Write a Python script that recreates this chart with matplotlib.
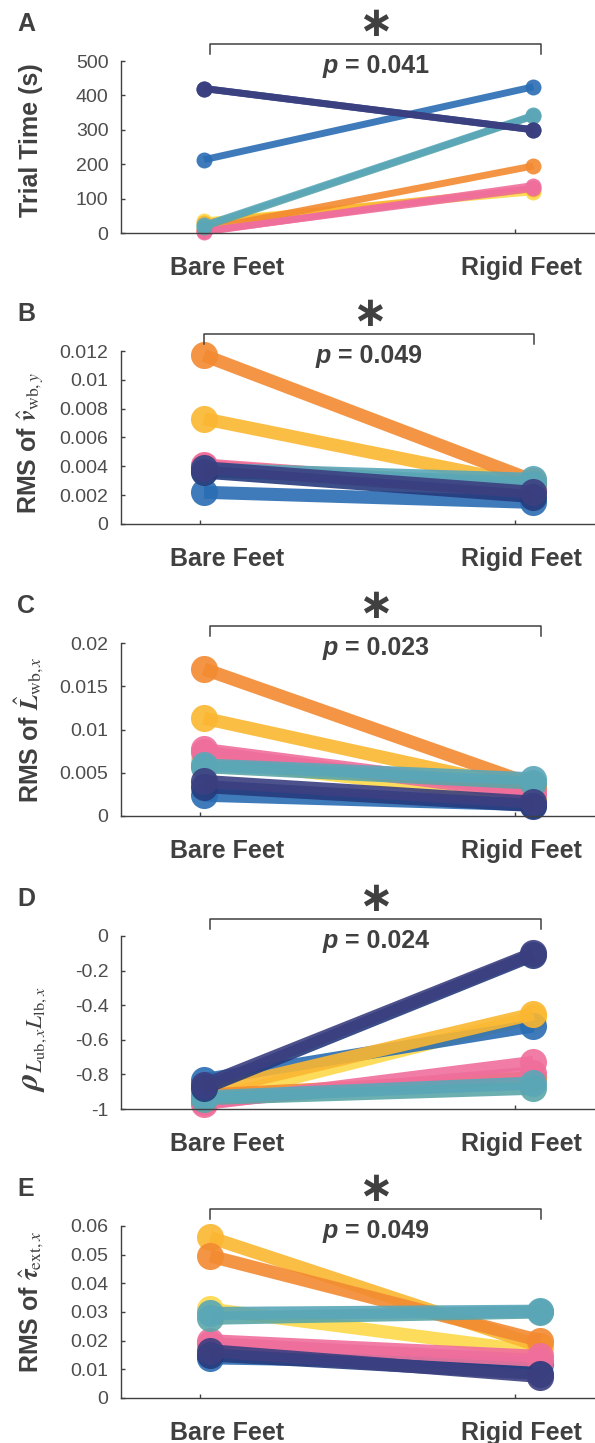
"""
Bare vs rigid feet: five paired-subject panels
"""
import numpy as np
import matplotlib.pyplot as plt
import matplotlib.transforms as mtransforms
from matplotlib.ticker import FuncFormatter

plt.rcParams['font.family'] = ['Liberation Sans', 'DejaVu Sans']
plt.rcParams['mathtext.fontset'] = 'stix'

W, H = 595, 1443
TXT = '#404040'

conditions = ['Bare Feet', 'Rigid Feet']
subjects = ['navy', 'darknavy', 'blue', 'teal', 'teal2', 'orange', 'gold', 'yellow', 'pink', 'pink2']
subject_colors = ['#3b3f80', '#263b7c', '#2a6db3', '#5aa7b8', '#5ba6a8',
                  '#f38a31', '#fbb731', '#fdd94a', '#f06e9c', '#ec6f99']
draw_order = ['yellow', 'blue', 'gold', 'orange', 'pink2', 'pink', 'teal2', 'teal', 'darknavy', 'navy']

# valores por sujeto (mismo orden que subjects)
time_bare = [420, 420, 213, 22, 18, 10, 30, 35, 3, 5]
time_rigid = [300, 300, 425, 342, 340, 195, 128, 120, 138, 130]

vel_bare = [0.0039, 0.0036, 0.0022, 0.0038, 0.0037, 0.0117, 0.0073, 0.0040, 0.0041, 0.0040]
vel_rigid = [0.0022, 0.0019, 0.0015, 0.0031, 0.0028, 0.0030, 0.0027, 0.0026, 0.0024, 0.0023]

mom_bare = [0.0040, 0.0034, 0.0024, 0.0059, 0.0057, 0.0170, 0.0113, 0.0065, 0.0077, 0.0074]
mom_rigid = [0.0016, 0.0012, 0.0013, 0.0043, 0.0038, 0.0036, 0.0030, 0.0020, 0.0028, 0.0025]

rho_bare = [-0.86, -0.88, -0.83, -0.93, -0.94, -0.92, -0.90, -0.95, -0.97, -0.96]
rho_rigid = [-0.10, -0.11, -0.52, -0.85, -0.88, -0.82, -0.45, -0.47, -0.73, -0.79]

tau_bare = [0.0165, 0.0150, 0.0140, 0.0295, 0.0278, 0.0495, 0.0560, 0.0310, 0.0200, 0.0190]
tau_rigid = [0.0075, 0.0085, 0.0120, 0.0303, 0.0300, 0.0200, 0.0180, 0.0160, 0.0145, 0.0130]

p_values = [0.041, 0.049, 0.023, 0.024, 0.049]
panel_letters = ['A', 'B', 'C', 'D', 'E']
ylabels = ['Trial Time (s)',
           r'RMS of $\hat{\boldsymbol{v}}_{\mathrm{wb},y}$',
           r'RMS of $\hat{\boldsymbol{L}}_{\mathrm{wb},x}$',
           r'$\boldsymbol{\rho}_{L_{\mathrm{ub},x}L_{\mathrm{lb},x}}$',
           r'RMS of $\hat{\boldsymbol{\tau}}_{\mathrm{ext},x}$']
ylims = [(0, 500), (0, 0.012), (0, 0.02), (-1, 0), (0, 0.06)]
yticks = [[0, 100, 200, 300, 400, 500],
          [0, 0.002, 0.004, 0.006, 0.008, 0.01, 0.012],
          [0, 0.005, 0.01, 0.015, 0.02],
          [-1, -0.8, -0.6, -0.4, -0.2, 0],
          [0, 0.01, 0.02, 0.03, 0.04, 0.05, 0.06]]
panels = [(time_bare, time_rigid), (vel_bare, vel_rigid), (mom_bare, mom_rigid),
          (rho_bare, rho_rigid), (tau_bare, tau_rigid)]

# layout en pixeles
ax_tops = [61, 351, 643, 936, 1226]
ax_bots = [233, 524, 816, 1109, 1398]
ylabel_centers = [140, 443, 730, 1039, 1302]
ylabel_sizes = [18, 18, 18, 24, 18]
point_x = [(1.013, 2.058)] * 4 + [(1.033, 2.08)]
bracket_x = [(1.033, 2.083), (1.013, 2.06), (1.033, 2.083), (1.033, 2.083), (1.033, 2.083)]
line_w = [5, 9.4, 9.4, 9.4, 9.4]
marker_s = [11.5, 19.5, 19.5, 19.5, 19.5]


def fy(px):
    return 1 - px / H


fig = plt.figure(figsize=(W / 100, H / 100), dpi=100)
renderer = fig.canvas.get_renderer()

for i in range(5):
    top, bot = ax_tops[i], ax_bots[i]
    ax = fig.add_axes([121 / W, fy(bot), (594 - 121) / W, (bot - top) / H])
    bare, rigid = panels[i]
    for name in draw_order:
        k = subjects.index(name)
        ax.plot(point_x[i], [bare[k], rigid[k]], '-o', color=subject_colors[k],
                lw=line_w[i], ms=marker_s[i], mew=0, alpha=0.9, clip_on=False,
                solid_capstyle='butt')

    ax.set_xlim(0.75, 2.25)
    ax.set_ylim(ylims[i])
    ax.set_yticks(yticks[i])
    ax.yaxis.set_major_formatter(FuncFormatter(lambda v, pos: f'{round(v, 6) + 0.0:g}'))
    ax.set_xticks([1, 2])
    ax.set_xticklabels(['', ''])
    for s in ['top', 'right']:
        ax.spines[s].set_visible(False)
    for s in ['left', 'bottom']:
        ax.spines[s].set_color(TXT)
        ax.spines[s].set_linewidth(1)
    ax.tick_params(direction='in', length=3, width=1, color=TXT, labelsize=14,
                   labelcolor='#4d4d4d', pad=9)

    blend = mtransforms.blended_transform_factory(ax.transData, fig.transFigure)

    # etiquetas de condicion
    for xc, lab in zip([1.085, 2.02], conditions):
        ax.text(xc, fy(bot + 42), lab, transform=blend, ha='center', va='baseline',
                fontsize=18, fontweight='bold', color=TXT)

    # corchete de significancia
    x0, x1 = bracket_x[i]
    ax.plot([x0, x0, x1, x1], [fy(top - 7), fy(top - 17), fy(top - 17), fy(top - 7)],
            color=TXT, lw=1.1, transform=blend, clip_on=False)
    xm = (x0 + x1) / 2
    fs_star = 30
    ax.text(xm, fy(top - 39 + 0.33 * fs_star * 100 / 72), '\u2217', transform=blend,
            ha='center', va='baseline', fontsize=fs_star, fontweight='bold', color=TXT,
            family='DejaVu Sans')

    # p = ...
    t1 = ax.text(0, 0, 'p', transform=blend, ha='left', va='baseline', fontsize=18,
                 fontweight='bold', fontstyle='italic', color=TXT)
    t2 = ax.text(0, 0, f' = {p_values[i]:.3f}', transform=blend, ha='left', va='baseline',
                 fontsize=18, fontweight='bold', color=TXT)
    w1 = t1.get_window_extent(renderer).width
    w2 = t2.get_window_extent(renderer).width
    xm_px = ax.transData.transform((xm, 0))[0]
    inv = ax.transData.inverted()
    xa = inv.transform((xm_px - (w1 + w2) / 2, 0))[0]
    xb = inv.transform((xm_px - (w1 + w2) / 2 + w1, 0))[0]
    t1.set_position((xa, fy(top + 12)))
    t2.set_position((xb, fy(top + 12)))

    # letra del panel
    fig.text(17 / W, fy(top - 39 + 0.358 * 25), panel_letters[i], ha='left', va='baseline',
             fontsize=18, fontweight='bold', color=TXT)

    # eje y
    fig.text(38 / W, fy(ylabel_centers[i]), ylabels[i], rotation=90, rotation_mode='anchor',
             ha='center', va='baseline', fontsize=ylabel_sizes[i], fontweight='bold', color=TXT)

fig.savefig('out.png', dpi=100)
